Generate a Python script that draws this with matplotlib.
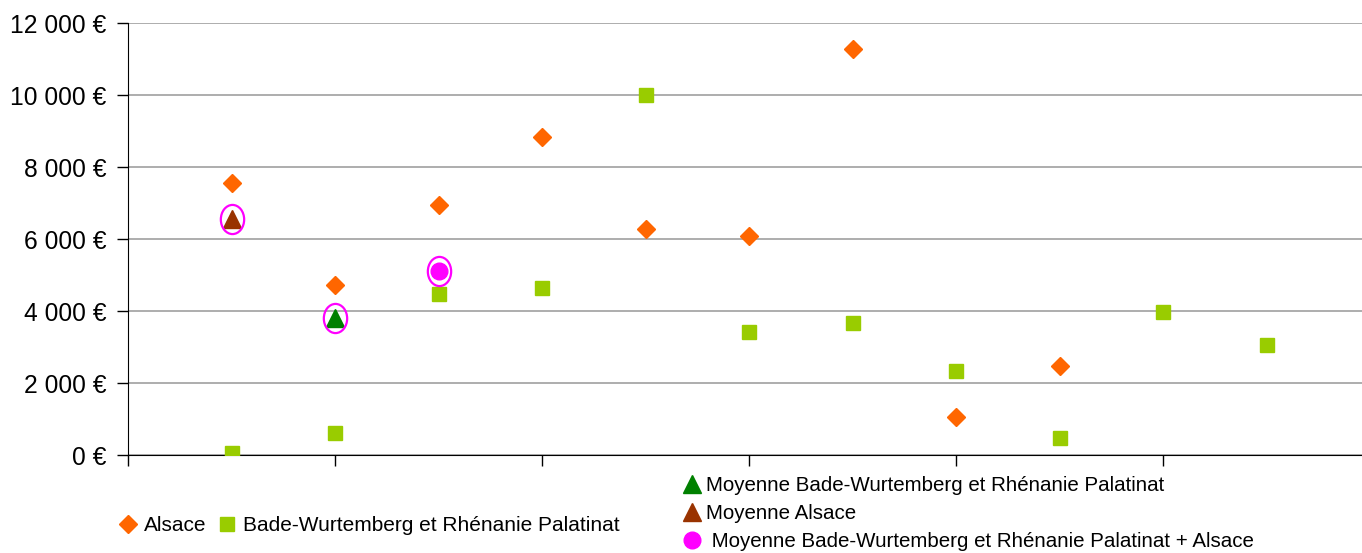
import matplotlib
matplotlib.use("Agg")
import matplotlib.pyplot as plt
import matplotlib.path as mpath
from matplotlib.lines import Line2D
from matplotlib.ticker import FuncFormatter
import numpy as np

plt.rcParams['font.family'] = ['Liberation Sans', 'DejaVu Sans']

# values
alsace_x = [1, 2, 3, 4, 5, 6, 7, 8, 9]
alsace_y = [7550, 4720, 6940, 8830, 6280, 6080, 11280, 1050, 2470]

bw_x = [1, 2, 3, 4, 5, 6, 7, 8, 9, 10, 11]
bw_y = [55, 610, 4470, 4640, 10000, 3420, 3670, 2330, 470, 3970, 3050]

moy_bw = (2, 3800)
moy_alsace = (1, 6560)
moy_total = (3, 5110)

label_alsace = "Alsace"
label_bw = "Bade-Wurtemberg et Rhénanie Palatinat"
label_moy_bw = "Moyenne Bade-Wurtemberg et Rhénanie Palatinat"
label_moy_alsace = "Moyenne Alsace"
label_moy_total = " Moyenne Bade-Wurtemberg et Rhénanie Palatinat + Alsace"

c_orange = "#FF6600"
c_lime = "#99CC00"
c_green = "#008000"
c_brown = "#993300"
c_magenta = "#FF00FF"

fig = plt.figure(figsize=(13.62, 5.53), dpi=100)
ax = fig.add_axes([0.094, 0.1772, 0.912, 0.7812])

# horizontal grid
ax.set_ylim(0, 12000)
ax.set_xlim(0, 12)
ax.set_yticks(np.arange(0, 12001, 2000))
ax.set_xticks(np.arange(0, 13, 2))
ax.set_xticklabels([])
ax.grid(True, axis='y', color='#a0a0a0', lw=1.2)
ax.set_axisbelow(True)

ax.spines['top'].set_visible(False)
ax.spines['right'].set_visible(False)
ax.spines['left'].set_color('black')
ax.spines['bottom'].set_color('black')
ax.tick_params(axis='both', direction='out', length=8, width=1, color='black')
ax.tick_params(axis='y', labelsize=17.7, pad=7.5)
ax.yaxis.set_major_formatter(FuncFormatter(lambda v, p: f"{int(v):,}".replace(",", " ") + " €"))

# data series
ax.plot(bw_x, bw_y, linestyle="", marker='s', ms=9.5, color=c_lime, mec=c_lime, zorder=3)
ax.plot(alsace_x, alsace_y, linestyle="", marker='D', ms=9.5, color=c_orange, mec=c_orange, zorder=3)

# averages
ax.plot(*moy_bw, linestyle="", marker='^', ms=13, color=c_green, zorder=4)
ax.plot(*moy_alsace, linestyle="", marker='^', ms=13, color=c_brown, zorder=4)
ax.plot(*moy_total, linestyle="", marker='o', ms=12, color=c_magenta, zorder=4)

# open ellipses around the averages
circ = mpath.Path.unit_circle()
ellipse = mpath.Path(circ.vertices * np.array([0.8, 1.0]), circ.codes)
for pt in [moy_bw, moy_alsace, moy_total]:
    ax.plot(*pt, linestyle="", marker=ellipse, ms=21, mfc='none', mec=c_magenta, mew=1.6, zorder=5)

# legends
h1 = [Line2D([], [], linestyle="", marker='D', ms=9.5, color=c_orange),
      Line2D([], [], linestyle="", marker='s', ms=9.5, color=c_lime)]
leg1 = fig.legend(h1, [label_alsace, label_bw], loc='center left', bbox_to_anchor=(0.082, 0.05),
                  ncol=2, frameon=False, fontsize=15, handlelength=0.8, handletextpad=0.35,
                  columnspacing=0.6, borderaxespad=0)

h2 = [Line2D([], [], linestyle="", marker='^', ms=13, color=c_green),
      Line2D([], [], linestyle="", marker='^', ms=13, color=c_brown),
      Line2D([], [], linestyle="", marker='o', ms=12, color=c_magenta)]
leg2 = fig.legend(h2, [label_moy_bw, label_moy_alsace, label_moy_total], loc='upper left',
                  bbox_to_anchor=(0.495, 0.1546), frameon=False, fontsize=14.8,
                  handlelength=0.9, handletextpad=0.25, labelspacing=0.45, borderaxespad=0)

fig.savefig("out.png", dpi=100)
